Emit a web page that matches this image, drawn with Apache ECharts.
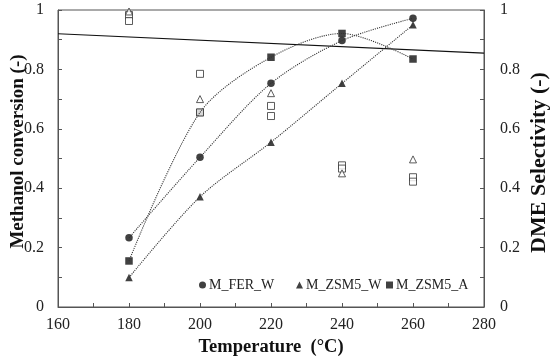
<!DOCTYPE html>
<html>
<head>
<meta charset="utf-8">
<script src="https://cdn.jsdelivr.net/npm/echarts@6/dist/echarts.min.js"></script>
<style>html,body{margin:0;padding:0;background:#fff}#c{width:550px;height:360px}</style>
</head>
<body>
<div id="c"></div>
<script>
// Temperatures (°C)
var temps = [180, 200, 220, 240, 260];
// Methanol conversion (filled markers, left axis)
var convFER_W = [0.233, 0.504, 0.753, 0.897, 0.972];
var convZSM5_W = [0.099, 0.371, 0.555, 0.753, 0.95];
var convZSM5_A = [0.155, 0.655, 0.841, 0.921, 0.835];
// DME selectivity (open markers, right axis)
var selTri = [0.995, 0.70, 0.72, 0.45, 0.497];
var selSqA = [0.983, 0.785, 0.677, 0.477, 0.437];
var selSqB = [0.963, 0.655, 0.643, 0.466, 0.422];
// Straight reference line (x, value)
var refLineX = [160, 280];
var refLineY = [0.92, 0.855];
// Axis ticks
var xTicks = [160, 180, 200, 220, 240, 260, 280];
var yTicks = [0, 0.2, 0.4, 0.6, 0.8, 1];

function pairs(xs, ys) { return xs.map(function (x, i) { return [x, ys[i]]; }); }

var FONT = '"Liberation Serif", "Times New Roman", serif';
var AX = '#555';
var lbl = { fontFamily: FONT, fontSize: 16, color: '#222' };

var chart = echarts.init(document.getElementById('c'), null, { renderer: 'canvas' });

function trend(data) {
  return {
    type: 'line', data: data, smooth: 0.3, showSymbol: false, symbol: 'none',
    lineStyle: { type: 'dotted', width: 1.1, color: '#333' }, z: 4, silent: true
  };
}
function filled(name, data, symbol) {
  return {
    name: name, type: 'scatter', data: data, symbol: symbol, symbolSize: 7.5,
    itemStyle: { color: '#111' }, z: 3
  };
}
function open(data, symbol) {
  return {
    type: 'scatter', yAxisIndex: 1, data: data, symbol: symbol, symbolSize: 7,
    itemStyle: { color: '#fff', borderColor: '#333', borderWidth: 1 }, z: 3.5
  };
}
function legend(name, left) {
  return {
    data: [name], left: left, top: 278, itemWidth: 7, itemHeight: 7, itemGap: 0,
    textStyle: { fontFamily: FONT, fontSize: 14, color: '#222', padding: [0, 0, 0, -2] },
    selectedMode: false, padding: 0
  };
}

var option = {
  animation: false,
  backgroundColor: '#fff',
  grid: {
    left: 58, right: 66, top: 10, bottom: 53, show: true, borderColor: AX, borderWidth: 1,
    containLabel: false, outerBoundsMode: 'none'
  },
  legend: [legend('M_FER_W', 199), legend('M_ZSM5_W', 296), legend('M_ZSM5_A', 386)],
  xAxis: {
    type: 'value', min: xTicks[0], max: xTicks[xTicks.length - 1], interval: 20,
    name: 'Temperature  (°C)', nameLocation: 'middle', nameGap: 31, nameMoveOverlap: false,
    nameTextStyle: { fontFamily: FONT, fontSize: 18.5, fontWeight: 'bold', color: '#111' },
    axisLine: { lineStyle: { color: AX } },
    axisTick: { inside: true, length: 4, lineStyle: { color: AX } },
    minorTick: { show: true, splitNumber: 2, length: 4, lineStyle: { color: AX } },
    axisLabel: Object.assign({ margin: 10 }, lbl),
    splitLine: { show: false }
  },
  yAxis: [{
    type: 'value', min: yTicks[0], max: yTicks[yTicks.length - 1], interval: 0.2,
    name: 'Methanol conversion (-)', nameLocation: 'middle', nameGap: 30, nameRotate: 90, nameMoveOverlap: false,
    nameTextStyle: { fontFamily: FONT, fontSize: 19, fontWeight: 'bold', color: '#111', padding: [0, 0, 0, 14] },
    axisLine: { show: true, lineStyle: { color: AX } },
    axisTick: { inside: true, length: 4, lineStyle: { color: AX } },
    minorTick: { show: true, splitNumber: 2, length: 4, lineStyle: { color: AX } },
    axisLabel: Object.assign({ margin: 14, formatter: function (v) { return String(+v.toFixed(1)); } }, lbl),
    splitLine: { show: false }
  }, {
    type: 'value', position: 'right', min: yTicks[0], max: yTicks[yTicks.length - 1], interval: 0.2,
    name: 'DME Selectivity (-)', nameLocation: 'middle', nameGap: 44, nameRotate: 90, nameMoveOverlap: false,
    nameTextStyle: { fontFamily: FONT, fontSize: 22, fontWeight: 'bold', color: '#111', padding: [0, 8, 0, 0] },
    axisLine: { show: true, lineStyle: { color: AX } },
    axisTick: { inside: true, length: 4, lineStyle: { color: AX } },
    minorTick: { show: true, splitNumber: 2, length: 4, lineStyle: { color: AX } },
    axisLabel: Object.assign({ margin: 16, formatter: function (v) { return String(+v.toFixed(1)); } }, lbl),
    splitLine: { show: false }
  }],
  series: [
    {
      type: 'line', data: pairs(refLineX, refLineY), showSymbol: false, symbol: 'none',
      lineStyle: { color: '#111', width: 1.2 }, z: 2, silent: true
    },
    filled('M_ZSM5_A', pairs(temps, convZSM5_A), 'rect'),
    open(pairs(temps, selSqA), 'rect'),
    open(pairs(temps, selSqB), 'rect'),
    open(pairs(temps, selTri), 'triangle'),
    filled('M_FER_W', pairs(temps, convFER_W), 'circle'),
    filled('M_ZSM5_W', pairs(temps, convZSM5_W), 'triangle'),
    trend(pairs(temps, convFER_W)),
    trend(pairs(temps, convZSM5_W)),
    trend(pairs(temps, convZSM5_A))
  ]
};
chart.setOption(option);
</script>
</body>
</html>
